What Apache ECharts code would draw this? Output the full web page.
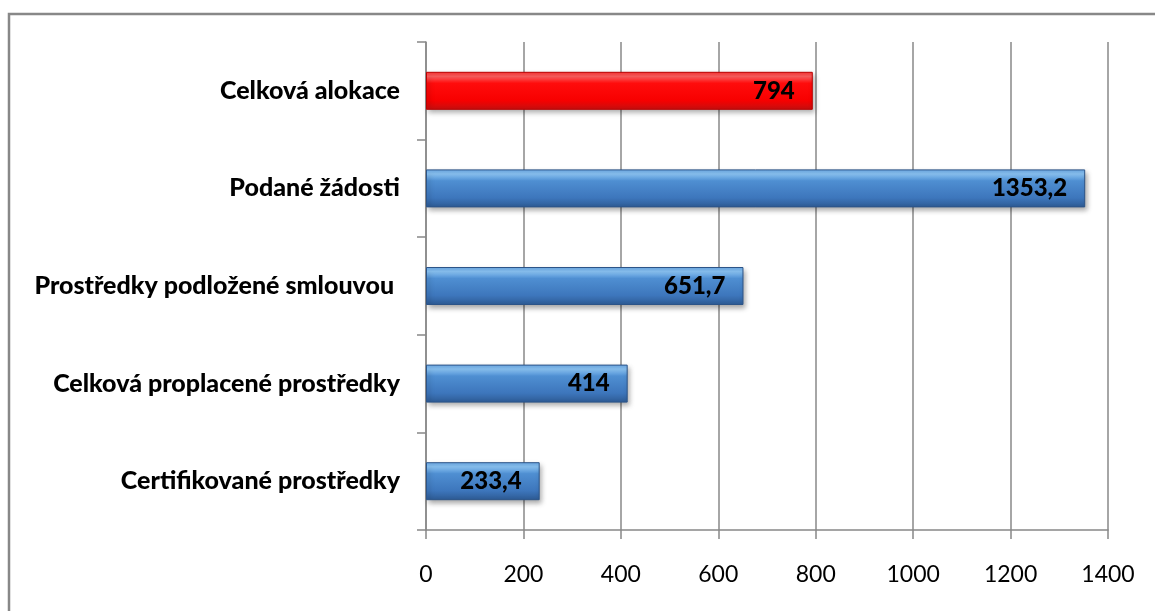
<!DOCTYPE html>
<html>
<head>
<meta charset="utf-8">
<script src="https://cdn.jsdelivr.net/npm/echarts@6/dist/echarts.min.js"></script>
<style>
html,body{margin:0;padding:0;background:#fff;}
#c{width:1155px;height:611px;}
</style>
</head>
<body>
<div id="c"></div>
<script>
var categories = ["Certifikované prostředky", "Celková proplacené prostředky", "Prostředky podložené smlouvou ", "Podané žádosti", "Celková alokace"];
var values = [233.4, 414, 651.7, 1353.2, 794];
var highlighted = ["Celková alokace"];
var xTicks = [0, 200, 400, 600, 800, 1000, 1200, 1400];

var blue = new echarts.graphic.LinearGradient(0, 0, 0, 1, [
  {offset: 0, color: '#6aa8e6'},
  {offset: 0.12, color: '#8cc6f7'},
  {offset: 0.3, color: '#4f8fd2'},
  {offset: 0.75, color: '#3d76bc'},
  {offset: 1, color: '#2d5a93'}
]);
var red = new echarts.graphic.LinearGradient(0, 0, 0, 1, [
  {offset: 0, color: '#ff3030'},
  {offset: 0.12, color: '#ff6060'},
  {offset: 0.3, color: '#ff0c0c'},
  {offset: 0.75, color: '#f80000'},
  {offset: 1, color: '#c41010'}
]);

var chart = echarts.init(document.getElementById('c'), null, {renderer: 'canvas'});
var option = {
  animation: false,
  backgroundColor: '#fff',
  graphic: [{
    type: 'polyline',
    shape: {points: [[9, 611], [9, 14], [1155, 14]]},
    style: {stroke: '#888', lineWidth: 2.5, fill: null},
    silent: true
  }],
  grid: {left: 426, right: 47, top: 42, bottom: 81, containLabel: false},
  xAxis: {
    type: 'value',
    min: 0, max: 1400, interval: 200,
    axisLine: {show: true, lineStyle: {color: '#888', width: 1.5}},
    axisTick: {show: true, length: 9, lineStyle: {color: '#888', width: 1.5}},
    splitLine: {show: true, lineStyle: {color: '#888', width: 1.5}},
    axisLabel: {
      margin: 33,
      fontFamily: 'Lato', fontSize: 23, color: '#000',
      formatter: function (v) { return xTicks.indexOf(v) >= 0 ? String(v) : ''; }
    }
  },
  yAxis: {
    type: 'category',
    data: categories,
    axisLine: {show: true, lineStyle: {color: '#888', width: 1.5}},
    axisTick: {show: true, length: 9, lineStyle: {color: '#888', width: 1.5}},
    axisLabel: {
      margin: 26,
      fontFamily: 'Lato', fontWeight: 900, fontSize: 25, color: '#000'
    }
  },
  series: [{
    type: 'bar',
    barWidth: 38,
    data: values.map(function (v, i) {
      var isHi = highlighted.indexOf(categories[i]) >= 0;
      return {
        value: v,
        itemStyle: {
          color: isHi ? red : blue,
          borderColor: isHi ? '#b80000' : '#2c5488',
          borderWidth: 1,
          shadowColor: 'rgba(0,0,0,0.35)',
          shadowBlur: 5,
          shadowOffsetX: 2,
          shadowOffsetY: 3
        }
      };
    }),
    label: {
      show: true,
      position: 'insideRight',
      distance: 18,
      fontFamily: 'Lato', fontWeight: 900, fontSize: 24, color: '#000',
      formatter: function (p) { return String(p.value).replace('.', ','); }
    }
  }]
};
chart.setOption(option);
</script>
</body>
</html>
